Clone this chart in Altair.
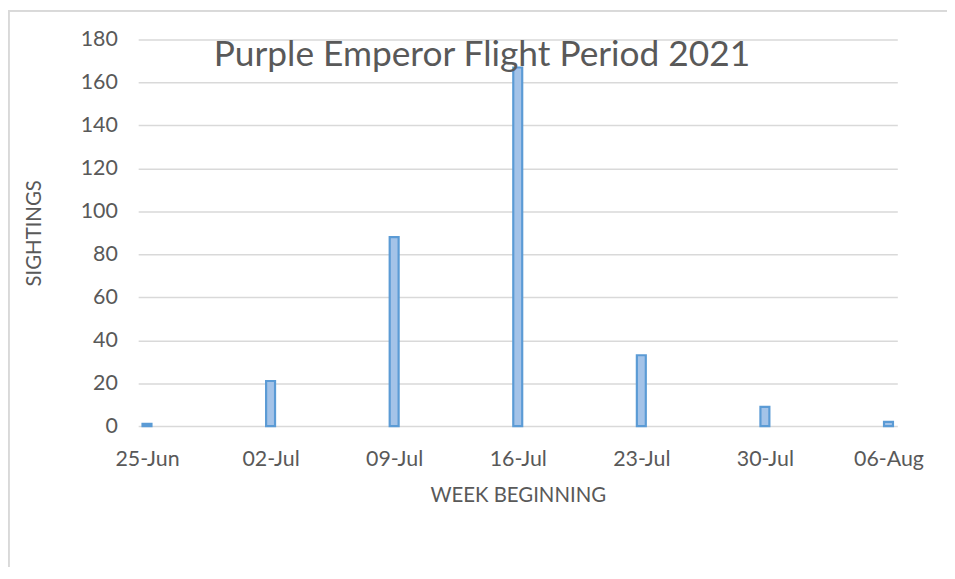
import altair as alt
import pandas as pd

weeks = ["2021-06-25", "2021-07-02", "2021-07-09", "2021-07-16", "2021-07-23", "2021-07-30", "2021-08-06"]
sightings = [1, 21, 88, 167, 33, 9, 2]
y_ticks = [0, 20, 40, 60, 80, 100, 120, 140, 160, 180]
title_text = "Purple Emperor Flight Period 2021"

df = pd.DataFrame({"week": weeks, "sightings": sightings})

FONT = "Lato"
GREY = "#595959"
GRID = "#d9d9d9"

x_values = [alt.DateTime(year=int(w[:4]), month=int(w[5:7]), date=int(w[8:]), utc=True) for w in weeks]

x_enc = alt.X(
    "week:T",
    scale=alt.Scale(
        type="utc",
        padding=0,
        domain=[alt.DateTime(year=2021, month=6, date=24, hours=12, utc=True),
                alt.DateTime(year=2021, month=8, date=6, hours=12, utc=True)],
    ),
    axis=alt.Axis(
        values=x_values,
        labelExpr="utcFormat(datum.value, '%d-%b')",
        grid=False, ticks=False, domain=False,
        labelPadding=23, labelFontSize=21.5, labelColor=GREY, labelFont=FONT,
        title="WEEK BEGINNING", titleFontSize=20.5, titleFont=FONT, titleColor=GREY,
        titleFontWeight="normal", titlePadding=15,
    ),
)

y_enc = alt.Y(
    "sightings:Q",
    scale=alt.Scale(domain=[0, 180], nice=False),
    axis=alt.Axis(
        values=y_ticks, grid=True, gridColor=GRID, gridWidth=1.5,
        ticks=False, domain=False,
        labelPadding=21, labelFontSize=21.5, labelColor=GREY, labelFont=FONT,
        title="SIGHTINGS", titleFontSize=20.5, titleFont=FONT, titleColor=GREY,
        titleFontWeight="normal", titlePadding=36,
    ),
)

bars = alt.Chart(df).mark_bar(
    size=9, color="#a4c3e8", stroke="#5b9bd5", strokeWidth=2.2,
).encode(x=x_enc, y=y_enc)

frame = alt.Chart(df).mark_rect(
    filled=False, stroke=GRID, strokeWidth=1.6,
).encode(
    x=alt.value(-130.5), x2=alt.value(900), y=alt.value(-29), y2=alt.value(700)
)

title = alt.Chart(pd.DataFrame({"t": [title_text]})).mark_text(
    font=FONT, fontSize=35.5, color=GREY, align="center", baseline="alphabetic",
).encode(x=alt.value(346), y=alt.value(27), text="t:N")

chart = alt.layer(frame, bars, title).properties(
    width=764, height=389,
    autosize=alt.AutoSizeParams(type="none"),
    padding={"left": 131, "top": 30, "right": 50, "bottom": 140},
).configure_view(stroke=None)

chart.save("out.html", embed_options={"renderer": "svg", "actions": False})
